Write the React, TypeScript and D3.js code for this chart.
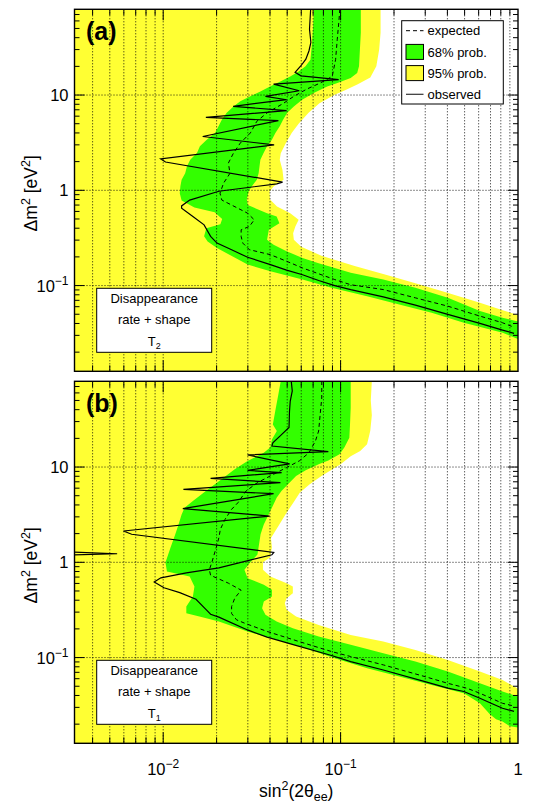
import React from "react";
import * as d3 from "d3";

type Pt = [number, number]; // [sin^2(2theta_ee), dm^2 in eV^2]

// ---- panel (a): T2 ----
const aYellowEdge: Pt[] = [
  [0.168, 80], [0.168, 45], [0.165, 30], [0.159, 20], [0.147, 15.3], [0.125, 13.0],
  [0.106, 11.2], [0.092, 10.0], [0.076, 8.2], [0.066, 6.5], [0.058, 5.0], [0.053, 4.0],
  [0.049, 3.1], [0.046, 2.45], [0.0454, 2.09], [0.047, 1.64], [0.0477, 1.29], [0.042, 1.1],
  [0.0398, 0.97], [0.04, 0.8], [0.0438, 0.676], [0.052, 0.575], [0.058, 0.49], [0.0556, 0.417],
  [0.054, 0.355], [0.0545, 0.302], [0.06, 0.255], [0.078, 0.205], [0.12, 0.16], [0.18, 0.13],
  [0.264, 0.106], [0.4, 0.084], [0.61, 0.066], [0.82, 0.055], [1.0, 0.049], [1.2, 0.044],
];
const aGreenRight: Pt[] = [
  [0.13, 80], [0.13, 45], [0.1285, 30], [0.127, 20], [0.124, 17], [0.114, 15.1], [0.096, 13.4],
  [0.084, 12.3], [0.0706, 10.5], [0.0607, 8.9], [0.0545, 7.6], [0.05, 6.5], [0.0474, 5.5],
  [0.0454, 4.7], [0.0429, 4.0], [0.041, 3.4], [0.0385, 2.9], [0.0368, 2.46], [0.0353, 2.09],
  [0.0349, 1.78], [0.0345, 1.51], [0.0337, 1.29], [0.0316, 1.1], [0.0303, 0.97], [0.0296, 0.8],
  [0.03, 0.7], [0.0385, 0.575], [0.0436, 0.531], [0.0452, 0.452], [0.0394, 0.385], [0.0385, 0.303],
  [0.0419, 0.268], [0.0496, 0.229], [0.061, 0.195], [0.0752, 0.172], [0.0927, 0.153], [0.114, 0.136],
  [0.174, 0.1156], [0.264, 0.0946], [0.402, 0.0743], [0.61, 0.054], [0.818, 0.0459], [1.0, 0.042],
  [1.2, 0.039],
];
const aGreenLeft: Pt[] = [
  [0.0706, 80], [0.07, 52], [0.069, 35], [0.0676, 23.5], [0.0634, 20], [0.058, 17.7], [0.052, 15.7],
  [0.0457, 13.9], [0.04, 12.3], [0.0353, 10.9], [0.031, 9.7], [0.0272, 8.6], [0.0249, 7.6],
  [0.0228, 6.5], [0.0214, 5.5], [0.0205, 4.7], [0.0196, 4.0], [0.0176, 3.4], [0.0161, 2.9],
  [0.0155, 2.46], [0.0142, 2.09], [0.0136, 1.78], [0.0133, 1.51], [0.0127, 1.29], [0.0125, 1.1],
  [0.0124, 0.93], [0.0127, 0.78], [0.015, 0.66], [0.0195, 0.59], [0.0215, 0.5], [0.021, 0.44],
  [0.0175, 0.4], [0.017, 0.33], [0.0178, 0.29], [0.0201, 0.248], [0.0299, 0.166], [0.0402, 0.141],
  [0.061, 0.1156], [0.0889, 0.0946], [0.141, 0.0774], [0.214, 0.0633], [0.326, 0.0518],
  [0.495, 0.0407], [0.819, 0.032], [1.0, 0.0275], [1.2, 0.025],
];
const aExpected: Pt[] = [
  [0.099, 80], [0.098, 62], [0.0957, 38], [0.0937, 23.5], [0.0897, 15.7], [0.077, 13.4],
  [0.0648, 11.6], [0.0545, 9.7], [0.0477, 8.2], [0.0385, 6.5], [0.0337, 5.3], [0.031, 4.0],
  [0.0272, 3.13], [0.0249, 2.46], [0.0233, 1.93], [0.0238, 1.51], [0.0219, 1.19], [0.0209, 0.933],
  [0.0214, 0.79], [0.0299, 0.575], [0.0326, 0.49], [0.0306, 0.417], [0.0275, 0.385], [0.0275, 0.328],
  [0.0281, 0.279], [0.0306, 0.238], [0.0402, 0.211], [0.0496, 0.18], [0.061, 0.153], [0.0927, 0.1156],
  [0.114, 0.102], [0.174, 0.0908], [0.264, 0.0743], [0.402, 0.0608], [0.61, 0.0478], [0.818, 0.0407],
  [0.95, 0.0365],
];
const aObserved: Pt[] = [
  [0.0678, 80], [0.0668, 49], [0.068, 35.6], [0.0663, 29], [0.0637, 23.8], [0.0598, 20.3],
  [0.0554, 17.3], [0.0598, 15.9], [0.0975, 14.5], [0.0419, 13.0], [0.0585, 11.1], [0.0377, 9.69],
  [0.0496, 8.93], [0.0248, 7.62], [0.0496, 6.86], [0.0174, 5.84], [0.0446, 5.39], [0.0167, 3.67],
  [0.0422, 3.0], [0.00967, 2.14], [0.0103, 1.98], [0.0471, 1.22], [0.0437, 1.17], [0.0206, 0.977],
  [0.0141, 0.79], [0.0127, 0.686], [0.0127, 0.65], [0.0147, 0.531], [0.017, 0.434], [0.0185, 0.328],
  [0.0201, 0.279], [0.0243, 0.238], [0.0299, 0.198], [0.0402, 0.166], [0.0496, 0.145], [0.061, 0.13],
  [0.0752, 0.113], [0.0927, 0.1], [0.114, 0.0908], [0.174, 0.0762], [0.264, 0.0623], [0.402, 0.0498],
  [0.61, 0.0401], [0.818, 0.0341], [0.95, 0.0315],
];

// ---- panel (b): T1 ----
const bYellowEdge: Pt[] = [
  [0.15, 80], [0.148, 50], [0.15, 35], [0.147, 24], [0.141, 17.3], [0.129, 14.7], [0.114, 13],
  [0.1, 10.7], [0.09, 9.5], [0.078, 8.05], [0.067, 6.6], [0.059, 5.4], [0.054, 4.2], [0.049, 3.2],
  [0.044, 2.3], [0.0405, 1.8], [0.041, 1.43], [0.04, 1.12], [0.0365, 1.0], [0.0365, 0.834],
  [0.0402, 0.71], [0.0496, 0.604], [0.0538, 0.557], [0.0538, 0.474], [0.0496, 0.42], [0.0485, 0.372],
  [0.0496, 0.317], [0.0561, 0.27], [0.0752, 0.22], [0.114, 0.173], [0.174, 0.147], [0.264, 0.12],
  [0.402, 0.0945], [0.61, 0.0713], [0.818, 0.0582], [1.0, 0.047], [1.2, 0.042],
];
const bGreenRight: Pt[] = [
  [0.114, 80], [0.114, 42], [0.113, 28], [0.112, 20.3], [0.105, 16], [0.0986, 13.6], [0.0853, 11.7],
  [0.0752, 10.7], [0.0636, 9.23], [0.0561, 8.05], [0.0515, 6.86], [0.0464, 5.6], [0.0436, 4.77],
  [0.041, 3.74], [0.0393, 3.18], [0.0369, 2.5], [0.0354, 1.97], [0.0347, 1.55], [0.034, 1.21],
  [0.031, 1.0], [0.0287, 0.834], [0.0299, 0.682], [0.0369, 0.581], [0.041, 0.514], [0.041, 0.438],
  [0.0369, 0.387], [0.0361, 0.33], [0.0377, 0.281], [0.0436, 0.239], [0.0538, 0.203], [0.0752, 0.166],
  [0.114, 0.136], [0.174, 0.111], [0.264, 0.0908], [0.402, 0.0713], [0.61, 0.0537], [0.818, 0.044],
  [1.0, 0.039], [1.2, 0.036],
];
const bGreenLeft: Pt[] = [
  [0.046, 80], [0.0446, 58], [0.0428, 38.6], [0.0415, 28], [0.0437, 23.9], [0.041, 19.5], [0.0401, 16],
  [0.0369, 14.1], [0.0299, 11.6], [0.0253, 9.5], [0.0206, 7.1], [0.0174, 5.6], [0.0147, 4.4],
  [0.0132, 3.74], [0.0127, 3.18], [0.0122, 2.5], [0.0117, 1.97], [0.011, 1.43], [0.0103, 0.993],
  [0.0105, 0.8], [0.0141, 0.71], [0.015, 0.557], [0.0147, 0.438], [0.0135, 0.343], [0.0135, 0.292],
  [0.016, 0.27], [0.0206, 0.239], [0.0299, 0.188], [0.0402, 0.16], [0.061, 0.1285], [0.0927, 0.0984],
  [0.141, 0.0773], [0.214, 0.0631], [0.326, 0.0516], [0.495, 0.0422], [0.61, 0.0331], [0.692, 0.0256],
  [0.752, 0.0225], [0.818, 0.0213], [0.9, 0.019], [1.0, 0.0185], [1.2, 0.018],
];
const bExpected: Pt[] = [
  [0.0783, 80], [0.0783, 53], [0.0767, 35.6], [0.0752, 23.9], [0.0721, 18.7], [0.0663, 14.1],
  [0.0585, 11.6], [0.0494, 9.84], [0.0401, 8.05], [0.034, 6.86], [0.0293, 5.6], [0.0264, 4.23],
  [0.0243, 3.6], [0.0223, 2.82], [0.021, 2.22], [0.0206, 1.81], [0.0199, 1.43], [0.0189, 1.03],
  [0.0182, 0.834], [0.0185, 0.73], [0.0233, 0.604], [0.0275, 0.51], [0.0253, 0.42], [0.0243, 0.343],
  [0.0243, 0.29], [0.0259, 0.249], [0.0287, 0.23], [0.0385, 0.188], [0.0585, 0.147], [0.0889, 0.1156],
  [0.114, 0.1025], [0.174, 0.0838], [0.299, 0.0631], [0.402, 0.0537], [0.516, 0.0476], [0.61, 0.0422],
  [0.818, 0.0331], [0.95, 0.031],
];
const bObserved: Pt[] = [
  [0.0527, 80], [0.0534, 63], [0.052, 49], [0.0515, 38], [0.0512, 26], [0.0455, 21.1], [0.0415, 18],
  [0.041, 16.6], [0.0853, 14.5], [0.0299, 13.4], [0.0516, 10.8], [0.0299, 9.23], [0.0465, 8.73],
  [0.0185, 7.6], [0.0458, 6.86], [0.013, 5.84], [0.0419, 5.25], [0.0129, 3.66], [0.0398, 3.06],
  [0.00597, 2.13], [0.00664, 1.97], [0.042, 1.27], [0.041, 1.2], [0.0206, 0.873], [0.0135, 0.774],
  [0.0097, 0.687], [0.0089, 0.62], [0.0101, 0.541], [0.0124, 0.48], [0.0153, 0.409], [0.0174, 0.321],
  [0.0185, 0.285], [0.0206, 0.266], [0.0299, 0.195], [0.0385, 0.164], [0.0585, 0.131], [0.0889, 0.105],
  [0.114, 0.0908], [0.174, 0.0741], [0.299, 0.056], [0.402, 0.0477], [0.495, 0.044], [0.61, 0.0374],
  [0.721, 0.0326], [0.818, 0.0294], [0.95, 0.0272],
];
const bObservedSpike: Pt[] = [[0.0025, 1.3], [0.0055, 1.23], [0.0025, 1.18]];

const xLabelTicks = [0.01, 0.1, 1];
const yLabelTicks = [0.1, 1, 10];
const legendItems = ["expected", "68% prob.", "95% prob.", "observed"];
const boxLines = ["Disappearance", "rate + shape"];

const X_DOMAIN: [number, number] = [Math.pow(10, -2.5), 1];
const Y_DOMAIN: [number, number] = [Math.pow(10, -1.9), Math.pow(10, 1.9)];

const W = 540, H = 805;
const X0 = 74.5, X1 = 518, PH = 362;
const YELLOW = "#ffff33", GREEN = "#33ff00";
const FONT = "'Liberation Sans', Arial, Helvetica, sans-serif";

function powLabel(v: number) {
  const e = Math.round(Math.log10(v));
  if (e === 0) return { base: "1", sup: "" };
  if (e === 1) return { base: "10", sup: "" };
  return { base: "10", sup: "\u2212" + Math.abs(e) };
}

const isMajor = (t: number) => Math.abs(Math.log10(t) - Math.round(Math.log10(t))) < 1e-6;

type PanelProps = {
  id: string; top: number; tag: string; sub: string;
  yellow: Pt[]; greenR: Pt[]; greenL: Pt[]; expected: Pt[]; observed: Pt[][];
  legend: boolean; xAxis: boolean;
};

function Panel(p: PanelProps) {
  const top = p.top, bottom = top + PH;
  const x = d3.scaleLog().domain(X_DOMAIN).range([X0, X1]);
  const y = d3.scaleLog().domain(Y_DOMAIN).range([bottom, top]);
  const line = d3.line<Pt>().x((d) => x(d[0])).y((d) => y(d[1]));
  const [xa, xb] = X_DOMAIN;
  const [ya, yb] = Y_DOMAIN;
  const yellowPoly: Pt[] = [...p.yellow, [xb * 2, ya / 2], [xa / 2, ya / 2], [xa / 2, yb * 2]];
  const greenPoly: Pt[] = [...p.greenR, ...p.greenL.slice().reverse()];
  const xt = x.ticks().filter((t) => t > xa * 1.001 && t < xb * 0.999);
  const yt = y.ticks().filter((t) => t > ya * 1.001 && t < yb * 0.999);
  const clip = `clip-${p.id}`;
  const lg = { x: 401.7, y: top + 11.4, w: 101.6, h: 83.3 };
  const rowY = (i: number) => top + 21.4 + i * 21.2;
  const bx = { x: 96.7, y: top + 279, w: 115, h: 64 };
  const cx = bx.x + bx.w / 2;

  return (
    <g>
      <defs>
        <clipPath id={clip}>
          <rect x={X0} y={top} width={X1 - X0} height={PH} />
        </clipPath>
      </defs>
      <g clipPath={`url(#${clip})`}>
        <rect x={X0} y={top} width={X1 - X0} height={PH} fill="#fff" />
        <path d={line(yellowPoly) + "Z"} fill={YELLOW} />
        <path d={line(greenPoly) + "Z"} fill={GREEN} />
        {xt.map((t) => (
          <line key={"gx" + t} x1={x(t)} x2={x(t)} y1={top} y2={bottom}
            stroke="#000" strokeWidth={0.9} strokeDasharray="1 2" />
        ))}
        {yt.filter(isMajor).map((t) => (
          <line key={"gy" + t} x1={X0} x2={X1} y1={y(t)} y2={y(t)}
            stroke="#000" strokeWidth={0.9} strokeDasharray="1 2" />
        ))}
        <path d={line(p.expected) || ""} fill="none" stroke="#000" strokeWidth={1} strokeDasharray="4 3" />
        {p.observed.map((o, i) => (
          <path key={i} d={line(o) || ""} fill="none" stroke="#000" strokeWidth={1.2} />
        ))}
      </g>

      {/* label box */}
      <rect x={bx.x} y={bx.y} width={bx.w} height={bx.h} fill="#fff" stroke="#000" strokeWidth={1} />
      <g fontFamily={FONT} fontSize={13} textAnchor="middle" fill="#000">
        <text x={cx} y={top + 293.6}>{boxLines[0]}</text>
        <text x={cx} y={top + 314.6}>{boxLines[1]}</text>
        <text x={cx} y={top + 337}>
          T<tspan fontSize={9} dy={3}>{p.sub}</tspan>
        </text>
      </g>

      {p.legend && (
        <g fontFamily={FONT} fontSize={13}>
          <rect x={lg.x} y={lg.y} width={lg.w} height={lg.h} fill="#fff" stroke="#000" strokeWidth={1} />
          <line x1={406} x2={423.5} y1={rowY(0)} y2={rowY(0)} stroke="#000" strokeDasharray="4 3" />
          <rect x={406} y={rowY(1) - 7.5} width={17.5} height={15} fill={GREEN} stroke="#000" />
          <rect x={406} y={rowY(2) - 7.5} width={17.5} height={15} fill={YELLOW} stroke="#000" />
          <line x1={406} x2={423.5} y1={rowY(3)} y2={rowY(3)} stroke="#333" strokeWidth={1.2} />
          {legendItems.map((s, i) => (
            <text key={s} x={427.5} y={rowY(i) + 4.6}>{s}</text>
          ))}
        </g>
      )}

      {/* frame and ticks */}
      <rect x={X0} y={top} width={X1 - X0} height={PH} fill="none" stroke="#000" strokeWidth={1.4} />
      {xt.map((t) => {
        const len = isMajor(t) ? 11 : 6;
        return (
          <g key={"tx" + t} stroke="#000" strokeWidth={1}>
            <line x1={x(t)} x2={x(t)} y1={bottom} y2={bottom - len} />
            <line x1={x(t)} x2={x(t)} y1={top} y2={top + len} />
          </g>
        );
      })}
      {yt.map((t) => {
        const len = isMajor(t) ? 10 : 5;
        return (
          <g key={"ty" + t} stroke="#000" strokeWidth={1}>
            <line x1={X0} x2={X0 + len} y1={y(t)} y2={y(t)} />
            <line x1={X1} x2={X1 - len} y1={y(t)} y2={y(t)} />
          </g>
        );
      })}

      <g fontFamily={FONT} fontSize={16.5} fill="#000">
        {yLabelTicks.map((t) => {
          const l = powLabel(t);
          return (
            <text key={"ly" + t} x={68.5} y={y(t) + 6} textAnchor="end">
              {l.base}
              {l.sup && <tspan fontSize={12} dy={-7}>{l.sup}</tspan>}
            </text>
          );
        })}
        {p.xAxis && xLabelTicks.map((t) => {
          const l = powLabel(t);
          return (
            <text key={"lx" + t} x={x(t)} y={775} textAnchor="middle">
              {l.base}
              {l.sup && <tspan fontSize={12} dy={-7}>{l.sup}</tspan>}
            </text>
          );
        })}
      </g>

      <text transform={`translate(36.5, ${top + 184}) rotate(-90)`} textAnchor="middle"
        fontFamily={FONT} fontSize={17.5} fill="#000">
        {"\u0394m"}<tspan fontSize={12.5} dy={-7}>2</tspan>
        <tspan dy={7}>{" [eV"}</tspan><tspan fontSize={12.5} dy={-7}>2</tspan>
        <tspan dy={7}>]</tspan>
      </text>

      <text x={86} y={top + 30.7} fontFamily={FONT} fontSize={25} fontWeight="bold" fill="#000">
        {p.tag}
      </text>
    </g>
  );
}

export default function App() {
  return (
    <svg width={W} height={H} viewBox={`0 0 ${W} ${H}`}
      style={{ position: "absolute", left: 0, top: 0, display: "block", background: "#fff" }}>
      <Panel id="a" top={9.3} tag="(a)" sub="2" yellow={aYellowEdge} greenR={aGreenRight}
        greenL={aGreenLeft} expected={aExpected} observed={[aObserved]} legend={true} xAxis={false} />
      <Panel id="b" top={381.3} tag="(b)" sub="1" yellow={bYellowEdge} greenR={bGreenRight}
        greenL={bGreenLeft} expected={bExpected} observed={[bObserved, bObservedSpike]} legend={false} xAxis={true} />
      <text x={(X0 + X1) / 2} y={797} textAnchor="middle" fontFamily={FONT} fontSize={17.5} fill="#000">
        sin<tspan fontSize={12.5} dy={-7}>2</tspan>
        <tspan dy={7}>{"(2\u03b8"}</tspan><tspan fontSize={12.5} dy={4}>ee</tspan>
        <tspan dy={-4}>)</tspan>
      </text>
    </svg>
  );
}
